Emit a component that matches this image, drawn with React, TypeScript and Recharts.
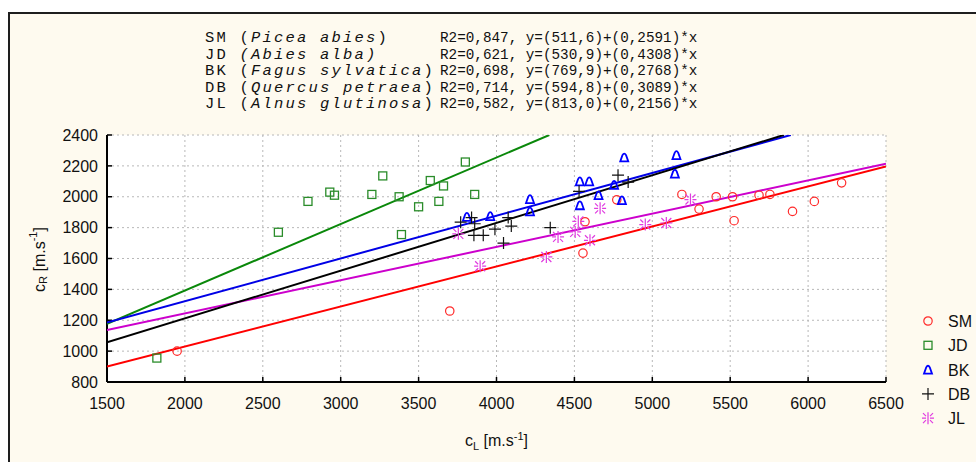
import React from 'react';
import { ComposedChart, Scatter, XAxis, YAxis, CartesianGrid, Legend, Customized } from 'recharts';

// ---------- data ----------
const xTicks = [1500, 2000, 2500, 3000, 3500, 4000, 4500, 5000, 5500, 6000, 6500];
const yTicks = [800, 1000, 1200, 1400, 1600, 1800, 2000, 2200, 2400];

const seriesCodes = ['SM', 'JD', 'BK', 'DB', 'JL'];
const speciesNames = ['Picea abies', 'Abies alba', 'Fagus sylvatica', 'Quercus petraea', 'Alnus glutinosa'];
const r2Values = ['0,847', '0,621', '0,698', '0,714', '0,582'];
const intercepts = ['511,6', '530,9', '769,9', '594,8', '813,0'];
const slopes = ['0,2591', '0,4308', '0,2768', '0,3089', '0,2156'];

// SM (Picea abies) – red circles
const smX = [1950, 3700, 4555, 4568, 4772, 5190, 5300, 5410, 5515, 5525, 5685, 5755, 5900, 6040, 6215];
const smY = [1000, 1260, 1635, 1838, 1980, 2015, 1920, 2000, 2000, 1845, 2010, 2015, 1905, 1970, 2090];
// JD (Abies alba) – green squares
const jdX = [1820, 2600, 2790, 2930, 2960, 3200, 3270, 3375, 3390, 3500, 3575, 3630, 3660, 3800, 3860];
const jdY = [955, 1770, 1970, 2030, 2010, 2015, 2135, 2000, 1755, 1935, 2105, 1970, 2070, 2225, 2015];
// BK (Fagus sylvatica) – blue triangles
const bkX = [3810, 3960, 4215, 4215, 4535, 4535, 4595, 4655, 4755, 4805, 4820, 5145, 5155];
const bkY = [1870, 1875, 1985, 1905, 1945, 2100, 2100, 2010, 2077, 1978, 2255, 2150, 2270];
// DB (Quercus petraea) – black crosses
const dbX = [3770, 3840, 3860, 3855, 3915, 3990, 4045, 4075, 4095, 4345, 4530, 4780, 4845];
const dbY = [1835, 1865, 1825, 1750, 1750, 1790, 1700, 1865, 1810, 1800, 2035, 2140, 2095];
// JL (Alnus glutinosa) – magenta stars
const jlX = [3755, 3895, 4320, 4395, 4505, 4525, 4600, 4665, 4955, 5090, 5245];
const jlY = [1760, 1550, 1610, 1740, 1772, 1840, 1718, 1925, 1820, 1830, 1982];

// regression line end points
const smLineX = [1500, 6500];
const smLineY = [900, 2196];
const jdLineX = [1500, 4339];
const jdLineY = [1177, 2400];
const bkLineX = [1500, 5889];
const bkLineY = [1185, 2400];
const dbLineX = [1500, 5844];
const dbLineY = [1058, 2400];
const jlLineX = [1500, 6500];
const jlLineY = [1136, 2214];

const zip = (xs: number[], ys: number[]) => xs.map((x, i) => ({ x, y: ys[i] }));

const colors = {
  SM: '#ff2a2a',
  JD: '#2a8c2a',
  BK: '#0000ff',
  DB: '#111111',
  JL: '#e03ce0',
};
const lineColors = {
  SM: '#ff0000',
  JD: '#0a880a',
  BK: '#0000e6',
  DB: '#000000',
  JL: '#cc00cc',
};

// ---------- markers ----------
const CircleM = ({ cx, cy }: any) => (
  <circle cx={cx} cy={cy} r={4.2} fill="none" stroke={colors.SM} strokeWidth={1.2} />
);
const SquareM = ({ cx, cy }: any) => (
  <rect x={cx - 4} y={cy - 4} width={8} height={8} fill="none" stroke={colors.JD} strokeWidth={1.3} />
);
const TriM = ({ cx, cy }: any) => (
  <path
    d={`M${cx - 4},${cy + 4} L${cx + 4},${cy + 4} L${cx + 1.8},${cy - 2.2} Q${cx},${cy - 5.5} ${cx - 1.8},${cy - 2.2} Z`}
    fill="none"
    stroke={colors.BK}
    strokeWidth={1.8}
  />
);
const CrossM = ({ cx, cy }: any) => (
  <path d={`M${cx - 6},${cy} H${cx + 6} M${cx},${cy - 6} V${cy + 6}`} stroke={colors.DB} strokeWidth={1.2} fill="none" />
);
const StarM = ({ cx, cy }: any) => (
  <path
    d={`M${cx},${cy - 6} V${cy + 6} M${cx - 6},${cy} H${cx - 2} M${cx + 2},${cy} H${cx + 6} M${cx - 5},${cy - 5} L${cx - 2},${cy - 2} M${cx + 5},${cy - 5} L${cx + 2},${cy - 2} M${cx - 5},${cy + 5} L${cx - 2},${cy + 2} M${cx + 5},${cy + 5} L${cx + 2},${cy + 2}`}
    stroke={colors.JL}
    strokeWidth={1.2}
    fill="none"
  />
);
const markerFor: Record<string, any> = { SM: CircleM, JD: SquareM, BK: TriM, DB: CrossM, JL: StarM };

const Empty = () => <g />;

// ---------- header / titles ----------
const monoFont = "'Liberation Mono', 'Courier New', monospace";
const Header = () => (
  <g fill="#111">
    {seriesCodes.map((code, i) => {
      const y = 42 + i * 16.6;
      return (
        <g key={code}>
          <text x={205} y={y} fontFamily={monoFont} fontSize={15.5} letterSpacing={2.2}>
            {code + ' '}
            {i === 1 ? (
              <tspan fontStyle="italic">({speciesNames[i]})</tspan>
            ) : (
              <>
                (<tspan fontStyle="italic">{speciesNames[i]}</tspan>)
              </>
            )}
          </text>
          <text x={440} y={y} fontFamily={monoFont} fontSize={14.3}>
            {`R2=${r2Values[i]}, y=(${intercepts[i]})+(${slopes[i]})*x`}
          </text>
        </g>
      );
    })}
  </g>
);

const XTitle = (props: any) => {
  const vb = props.viewBox || { x: 107, y: 382, width: 779, height: 40 };
  const cx = vb.x + vb.width / 2;
  const y = vb.y + 64;
  return (
    <text x={cx} y={y} textAnchor="middle" fontFamily="'Liberation Sans', Arial, sans-serif" fontSize={16} fill="#111">
      c<tspan fontSize={11} dy={4}>L</tspan>
      <tspan dy={-4}> [m.s</tspan>
      <tspan fontSize={11} dy={-6}>-1</tspan>
      <tspan dy={6}>]</tspan>
    </text>
  );
};

const YTitle = (props: any) => {
  const vb = props.viewBox || { x: 47, y: 135, width: 60, height: 247 };
  const cx = 39;
  const cy = vb.y + vb.height / 2 + 1;
  return (
    <text
      x={cx}
      y={cy}
      transform={`rotate(-90 ${cx} ${cy})`}
      textAnchor="middle"
      dominantBaseline="central"
      fontFamily="'Liberation Sans', Arial, sans-serif"
      fontSize={16}
      fill="#111"
    >
      c<tspan fontSize={11} dy={4}>R</tspan>
      <tspan dy={-4}> [m.s</tspan>
      <tspan fontSize={11} dy={-6}>-1</tspan>
      <tspan dy={6}>]</tspan>
    </text>
  );
};

const LegendBox = () => (
  <svg width={61} height={125} style={{ display: 'block' }}>
    {seriesCodes.map((code, i) => {
      const M = markerFor[code];
      const cy = 13 + i * 24.3;
      return (
        <g key={code}>
          <M cx={13} cy={cy} />
          <text x={33} y={cy + 6} fontFamily="'Liberation Sans', Arial, sans-serif" fontSize={16} fill="#111">
            {code}
          </text>
        </g>
      );
    })}
  </svg>
);

const tickFont = { fill: '#111', fontSize: 16, fontFamily: "'Liberation Sans', Arial, sans-serif" };

export default function App() {
  const pointSeries = [
    { code: 'SM', data: zip(smX, smY) },
    { code: 'JD', data: zip(jdX, jdY) },
    { code: 'BK', data: zip(bkX, bkY) },
    { code: 'DB', data: zip(dbX, dbY) },
    { code: 'JL', data: zip(jlX, jlY) },
  ];
  const lineSeries = [
    { code: 'JD', data: zip(jdLineX, jdLineY) },
    { code: 'BK', data: zip(bkLineX, bkLineY) },
    { code: 'JL', data: zip(jlLineX, jlLineY) },
    { code: 'DB', data: zip(dbLineX, dbLineY) },
    { code: 'SM', data: zip(smLineX, smLineY) },
  ];
  return (
    <div>
      <div
        style={{
          position: 'absolute',
          left: 8,
          top: 12,
          width: 968,
          height: 450,
          boxSizing: 'border-box',
          borderLeft: '2px solid #1e1e1e',
          borderTop: '2px solid #1e1e1e',
          background: '#fefaef',
        }}
      />
      <div style={{ position: 'absolute', left: 0, top: 0, width: 976, height: 462 }}>
        <ComposedChart width={976} height={462} margin={{ top: 135, right: 90, bottom: 40, left: 47 }}>
          <CartesianGrid
            xAxisId={0}
            yAxisId={0}
            stroke="#b8b8b8"
            strokeDasharray="2 3"
            fill="#ffffff"
            fillOpacity={1}
            horizontalValues={yTicks}
            verticalValues={xTicks}
          />
          <XAxis
            xAxisId={0}
            dataKey="x"
            type="number"
            domain={[1500, 6500]}
            ticks={xTicks}
            interval={0}
            allowDataOverflow
            height={40}
            axisLine={{ stroke: '#000', strokeWidth: 2 }}
            tickLine={{ stroke: '#000', strokeWidth: 1.5 }}
            tickSize={-5}
            tickMargin={21}
            tick={tickFont}
            label={<XTitle />}
          />
          <XAxis
            xAxisId="top"
            orientation="top"
            type="number"
            domain={[1500, 6500]}
            ticks={xTicks}
            interval={0}
            allowDataOverflow
            height={0}
            axisLine={{ stroke: '#000', strokeWidth: 2 }}
            tickLine={{ stroke: '#000', strokeWidth: 1.5 }}
            tickSize={-5}
            tick={false}
          />
          <YAxis
            yAxisId={0}
            dataKey="y"
            type="number"
            domain={[800, 2400]}
            ticks={yTicks}
            interval={0}
            allowDataOverflow
            width={60}
            axisLine={{ stroke: '#000', strokeWidth: 2 }}
            tickLine={{ stroke: '#000', strokeWidth: 1.5 }}
            tickSize={-5}
            tickMargin={14}
            tick={tickFont}
            label={<YTitle />}
          />
          <YAxis
            yAxisId="right"
            orientation="right"
            type="number"
            domain={[800, 2400]}
            ticks={yTicks}
            interval={0}
            allowDataOverflow
            width={0}
            axisLine={{ stroke: '#000', strokeWidth: 2 }}
            tickLine={{ stroke: '#000', strokeWidth: 1.5 }}
            tickSize={-5}
            tick={false}
          />
          {lineSeries.map((s) => (
            <Scatter
              key={'line-' + s.code}
              name={'line-' + s.code}
              data={s.data}
              xAxisId={0}
              yAxisId={0}
              line={{ stroke: (lineColors as any)[s.code], strokeWidth: 2 }}
              lineType="joint"
              shape={Empty}
              legendType="none"
              isAnimationActive={false}
            />
          ))}
          {pointSeries.map((s) => {
            const M = markerFor[s.code];
            return (
              <Scatter
                key={s.code}
                name={s.code}
                data={s.data}
                xAxisId={0}
                yAxisId={0}
                shape={(p: any) => <M cx={p.cx} cy={p.cy} />}
                isAnimationActive={false}
              />
            );
          })}
          <Customized component={Header} />
          <Legend
            layout="horizontal"
            align="center"
            verticalAlign="middle"
            wrapperStyle={{ position: 'absolute', left: 915, top: 308, width: 61, height: 125 }}
            content={() => <LegendBox />}
          />
        </ComposedChart>
      </div>
    </div>
  );
}
